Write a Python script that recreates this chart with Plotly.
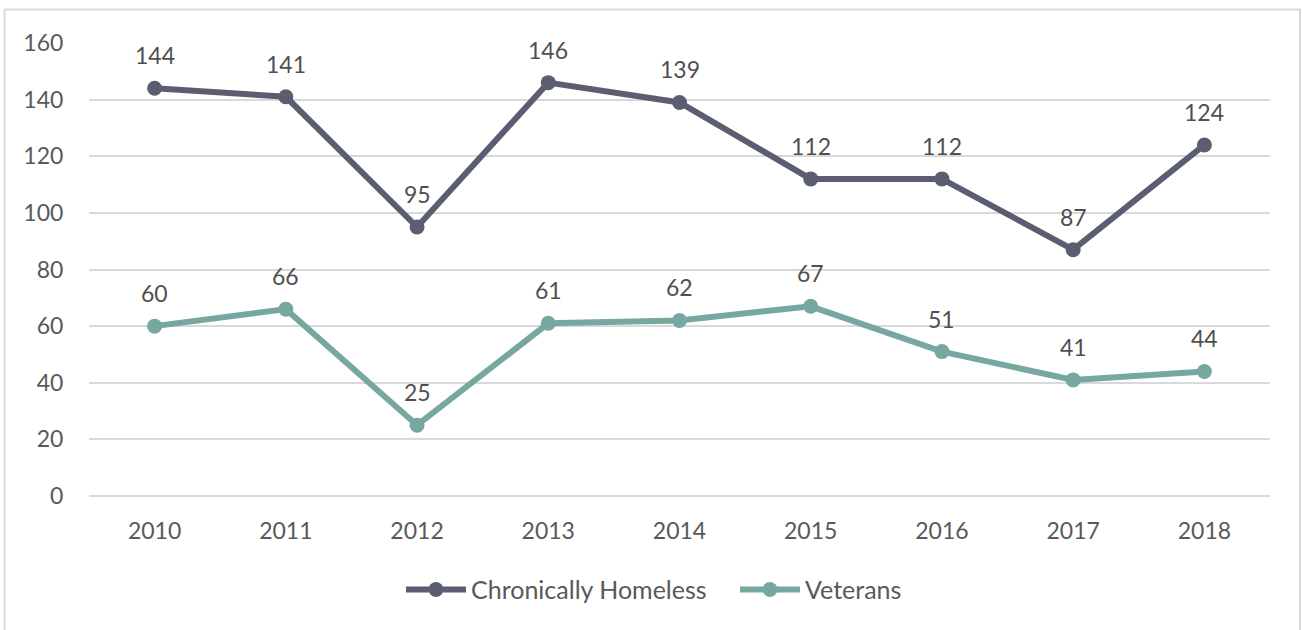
import plotly.graph_objects as go

years = ["2010", "2011", "2012", "2013", "2014", "2015", "2016", "2017", "2018"]
chronic = [144, 141, 95, 146, 139, 112, 112, 87, 124]
veterans = [60, 66, 25, 61, 62, 67, 51, 41, 44]

dark = "#5b5e70"
teal = "#77a8a0"
txt = "#595959"
font = "Lato"
fs = 23

fig = go.Figure()
fig.add_trace(go.Scatter(x=years, y=chronic, mode="lines+markers", name="Chronically Homeless",
                         line=dict(color=dark, width=6), marker=dict(size=15, color=dark)))
fig.add_trace(go.Scatter(x=years, y=veterans, mode="lines+markers", name="Veterans",
                         line=dict(color=teal, width=6), marker=dict(size=15, color=teal)))

# data labels above points (x as category index so "2010" isn't read as a number)
for series in (chronic, veterans):
    for i, y in enumerate(series):
        fig.add_annotation(x=i, y=y, text=str(y), showarrow=False, yshift=33,
                           font=dict(family=font, size=fs, color="#4f4f4f"))

# outer chart frame
fig.add_shape(type="rect", xref="paper", yref="paper",
              x0=(4.5 - 89) / 1181, x1=(1300 - 89) / 1181,
              y0=-0.32, y1=1 + (43 - 9.5) / 453,
              line=dict(color="#d9d9d9", width=2), layer="below")

fig.update_layout(
    width=1302, height=630,
    margin=dict(l=89, r=32, t=43, b=134, autoexpand=False),
    plot_bgcolor="white", paper_bgcolor="white",
    font=dict(family=font, size=fs, color=txt),
    showlegend=True,
    legend=dict(orientation="h", x=(401 - 89) / 1181, xanchor="left", y=-0.207, yanchor="middle",
                font=dict(family=font, size=25, color=txt), itemwidth=60, tracegroupgap=0,
                entrywidth=259),
)
fig.update_xaxes(type="category", range=[-0.5, len(years) - 0.5], showgrid=False, showline=False,
                 zeroline=False, ticks="outside", ticklen=14, tickcolor="rgba(0,0,0,0)",
                 tickfont=dict(size=fs))
fig.update_yaxes(range=[0, 160], dtick=20, showgrid=True, gridcolor="#d9d9d9", gridwidth=2,
                 zeroline=True, zerolinecolor="#d9d9d9", zerolinewidth=2, showline=False,
                 ticks="outside", ticklen=20, tickcolor="rgba(0,0,0,0)", tickfont=dict(size=fs))

fig.write_html("out.html", config={"displayModeBar": False},
               post_script="document.body.style.margin='0';")
